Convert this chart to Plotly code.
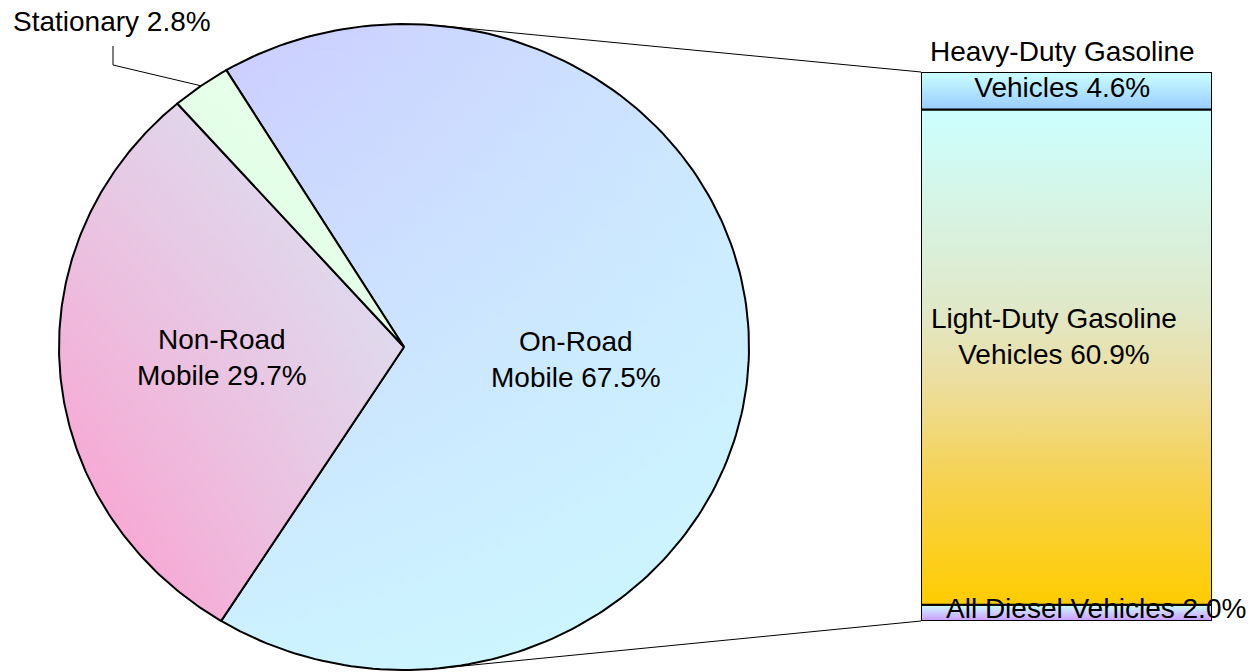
import numpy as np
import plotly.graph_objects as go

# ---------------- data ----------------
pie_labels = ["On-Road<br>Mobile", "Non-Road<br>Mobile", "Stationary"]
pie_values = [67.5, 29.7, 2.8]
bar_labels = ["All Diesel Vehicles", "Light-Duty Gasoline<br>Vehicles", "Heavy-Duty Gasoline<br>Vehicles"]
bar_values = [2.0, 60.9, 4.6]

# ---------------- layout geometry (pixels) ----------------
W, H = 1256, 672
CX, CY, RX, RY = 404, 347, 345, 323          # pie ellipse
BX0, BX1, BY_TOP, BY_BOT = 921, 1212, 72, 621  # bar box
START_DEG = -31.0                              # first slice start, clockwise from top
FONT = "Liberation Sans, Arial, sans-serif"
FS = 28

def px_to_pie(px, py):
    return (px - CX) / RX, (CY - py) / RY

def paper(px, py):
    return px / W, 1 - py / H

fig = go.Figure()

def rgba(c, a):
    return f"rgba({c[0]},{c[1]},{c[2]},{a})"

def mix(c1, c2, t=0.5):
    return tuple(int(round(c1[i] + (c2[i] - c1[i]) * t)) for i in range(3))

def add_diag_poly(xs, ys, xa, ya, c_low_left, c_other, vert_alpha, diag, line=True):
    """Approximate diagonal gradient with a horizontal layer + translucent vertical layer."""
    m = mix(c_low_left, c_other)
    if diag == "up":      # c_low_left at bottom-left, c_other at top-right
        h_scale = [[0, rgba(c_low_left, 1)], [1, rgba(m, 1)]]
        v_scale = [[0, rgba(c_other, 0)], [1, rgba(c_other, vert_alpha)]]
    else:                 # c_low_left at top-left, c_other at bottom-right
        h_scale = [[0, rgba(c_low_left, 1)], [1, rgba(m, 1)]]
        v_scale = [[0, rgba(c_other, vert_alpha)], [1, rgba(c_other, 0)]]
    fig.add_trace(go.Scatter(x=xs, y=ys, xaxis=xa, yaxis=ya, mode="lines", fill="toself",
                             fillgradient=dict(type="horizontal", colorscale=h_scale),
                             line=dict(width=0), hoverinfo="skip"))
    fig.add_trace(go.Scatter(x=xs, y=ys, xaxis=xa, yaxis=ya, mode="lines", fill="toself",
                             fillgradient=dict(type="vertical", colorscale=v_scale),
                             line=dict(color="black", width=2 if line else 0), hoverinfo="skip"))

# ---------------- pie slices ----------------
total = sum(pie_values)
angles = [START_DEG]
for v in pie_values:
    angles.append(angles[-1] + v / total * 360.0)

slice_styles = [
    dict(c1=(204, 204, 255), c2=(204, 255, 255), alpha=0.75, diag="down"),
    dict(c1=(255, 153, 204), c2=(204, 255, 255), alpha=0.5, diag="up"),
    dict(c1=(218, 255, 224), c2=(240, 255, 240), alpha=0.5, diag="up"),
]
for i, v in enumerate(pie_values):
    th = np.radians(np.linspace(angles[i], angles[i + 1], 200))
    xs = np.concatenate([[0], np.sin(th), [0]])
    ys = np.concatenate([[0], np.cos(th), [0]])
    s = slice_styles[i]
    add_diag_poly(xs, ys, "x", "y", s["c1"], s["c2"], s["alpha"], s["diag"])

# ---------------- stacked bar ----------------
bar_scales = [
    [[0, "rgb(204,153,255)"], [1, "rgb(204,255,255)"]],                       # diesel
    [[0, "rgb(255,204,0)"], [0.25, "rgb(246,210,80)"], [0.45, "rgb(236,222,160)"],
     [0.6, "rgb(224,232,200)"], [0.8, "rgb(214,244,228)"], [1, "rgb(204,255,255)"]],  # light duty
    [[0, "rgb(153,204,255)"], [1, "rgb(204,255,255)"]],                       # heavy duty
]
bar_total = sum(bar_values)
lo = 0.0
for v, cs in zip(bar_values, bar_scales):
    hi = lo + v
    fig.add_trace(go.Scatter(x=[0, 1, 1, 0, 0], y=[lo, lo, hi, hi, lo], xaxis="x2", yaxis="y2",
                             mode="lines", fill="toself",
                             fillgradient=dict(type="vertical", colorscale=cs),
                             line=dict(color="black", width=2), hoverinfo="skip"))
    lo = hi

# ---------------- connector lines (tangents from bar corners to ellipse) ----------------
def tangent_point(px, py, upper):
    P = np.array(px_to_pie(px, py))
    d = np.hypot(*P)
    phi = np.arctan2(P[1], P[0])
    off = np.arccos(1.0 / d)
    a = phi + off if upper else phi - off
    return np.cos(a), np.sin(a)

for (bpx, bpy, up) in [(BX0, BY_TOP, True), (BX0, BY_BOT, False)]:
    tx, ty = tangent_point(bpx, bpy, up)
    ex, ey = px_to_pie(bpx, bpy)
    fig.add_trace(go.Scatter(x=[tx, ex], y=[ty, ey], mode="lines",
                             line=dict(color="black", width=1), hoverinfo="skip"))

# ---------------- labels ----------------
annotations = []
label_r = [0.5, 0.53]
label_yshift = [-11, 3]
for i in range(2):
    mid = np.radians((angles[i] + angles[i + 1]) / 2)
    r = label_r[i]
    annotations.append(dict(x=r * np.sin(mid), y=r * np.cos(mid), xref="x", yref="y",
                            text=f"{pie_labels[i]} {pie_values[i]:.1f}%", showarrow=False,
                            xanchor="center", yanchor="middle", yshift=label_yshift[i],
                            font=dict(family=FONT, size=FS, color="black")))

# stationary: outside with leader line
mid = np.radians((angles[2] + angles[3]) / 2)
e1 = px_to_pie(113, 65)
e2 = px_to_pie(113, 46)
fig.add_trace(go.Scatter(x=[np.sin(mid), e1[0], e2[0]], y=[np.cos(mid), e1[1], e2[1]],
                         mode="lines", line=dict(color="black", width=1), hoverinfo="skip"))
sx, sy = paper(112, 22)
annotations.append(dict(x=sx, y=sy, xref="paper", yref="paper",
                        text=f"{pie_labels[2]} {pie_values[2]:.1f}%", showarrow=False,
                        xanchor="center", yanchor="middle",
                        font=dict(family=FONT, size=FS, color="black")))

bar_label_pos = [(1096, 608), (1054, 336), (1062, 70)]
for lab, v, (lx, ly) in zip(bar_labels, bar_values, bar_label_pos):
    ax_, ay_ = paper(lx, ly)
    annotations.append(dict(x=ax_, y=ay_, xref="paper", yref="paper",
                            text=f"{lab} {v:.1f}%", showarrow=False,
                            xanchor="center", yanchor="middle",
                            font=dict(family=FONT, size=FS, color="black")))

hidden = dict(visible=False, showgrid=False, zeroline=False, fixedrange=True)
fig.update_layout(
    width=W, height=H,
    margin=dict(l=0, r=0, t=0, b=0),
    paper_bgcolor="white", plot_bgcolor="rgba(0,0,0,0)",
    showlegend=False,
    xaxis=dict(domain=[0, 1], range=[(0 - CX) / RX, (W - CX) / RX], **hidden),
    yaxis=dict(domain=[0, 1], range=[-(H - CY) / RY, CY / RY], **hidden),
    xaxis2=dict(domain=[BX0 / W, BX1 / W], range=[0, 1], anchor="y2", **hidden),
    yaxis2=dict(domain=[1 - BY_BOT / H, 1 - BY_TOP / H], range=[0, bar_total], anchor="x2", **hidden),
    annotations=annotations,
)

fig.write_html("out.html")
